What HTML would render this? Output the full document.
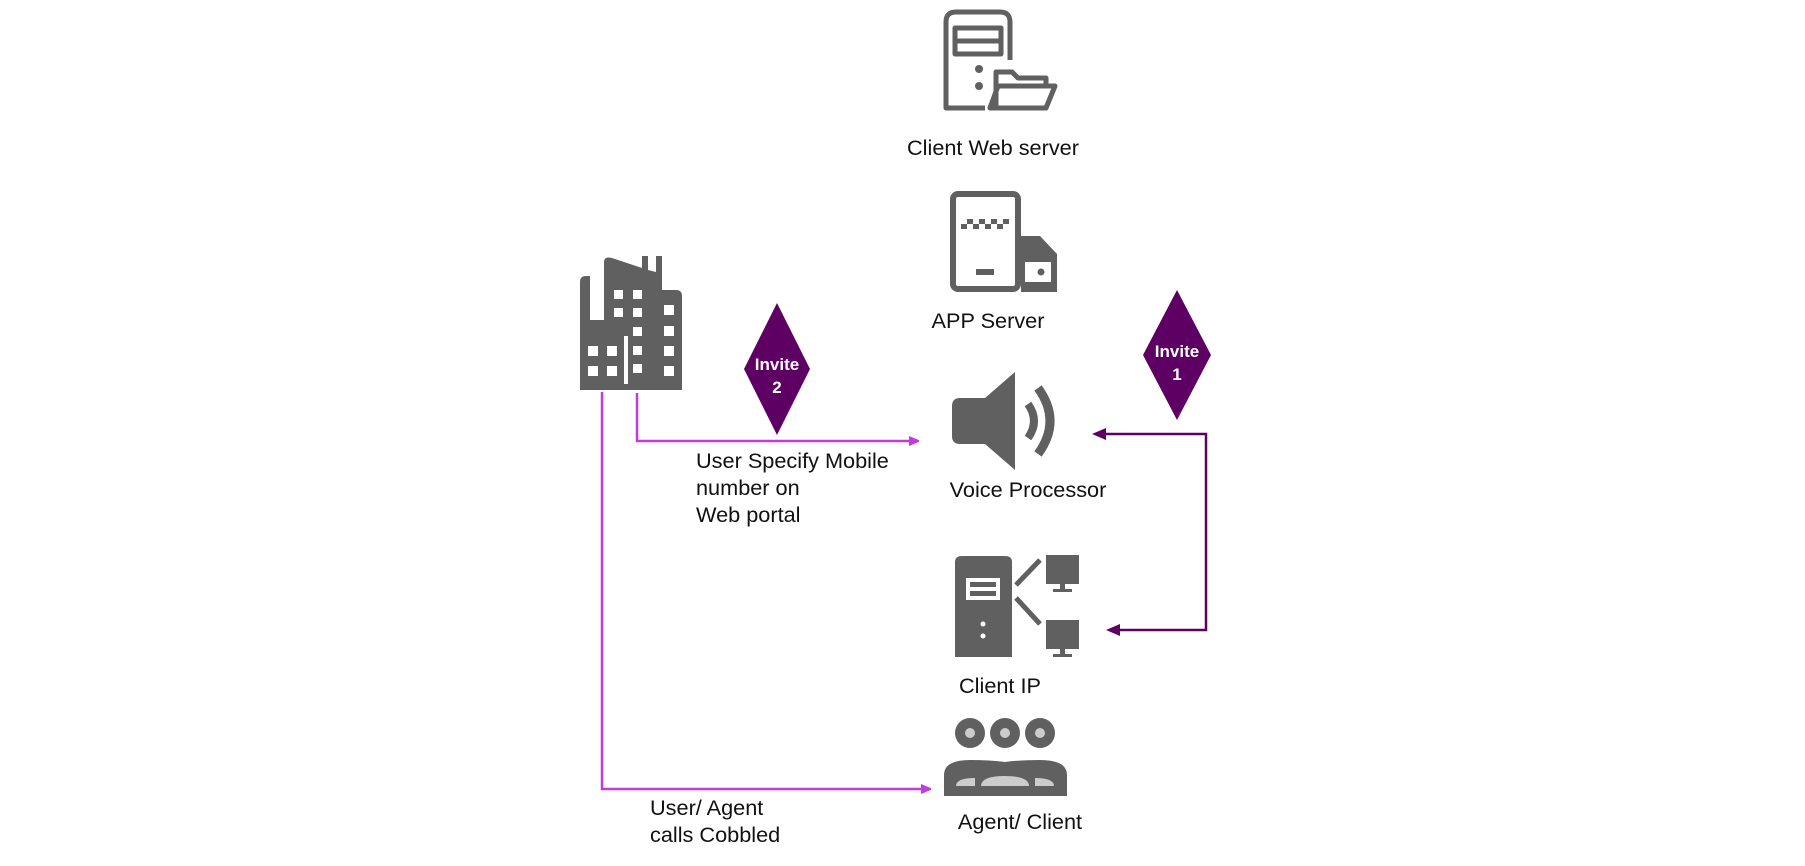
<!DOCTYPE html>
<html><head><meta charset="utf-8"><style>
html,body{margin:0;padding:0;background:#fff;}
svg{display:block;}
text{font-family:"Liberation Sans",Arial,sans-serif;fill:#111;}
</style></head><body>
<svg width="1805" height="866" viewBox="0 0 1805 866" xmlns="http://www.w3.org/2000/svg">
<defs>
<marker id="la" markerWidth="10" markerHeight="10" refX="9" refY="5" orient="auto" markerUnits="userSpaceOnUse"><path d="M0,0 L12,5 L0,10 Z" fill="#c23be0"/></marker>
</defs>
<g fill="#606060" stroke="none">
<g fill="none" stroke="#606060" stroke-width="5" stroke-linejoin="round">
<path d="M946,22 Q946,12 956,12 L1000,12 Q1010,12 1010,22 L1010,60"/>
<path d="M946,22 L946,108 L985,108"/>
<rect x="955" y="28" width="46" height="26"/>
<line x1="955" y1="41" x2="1001" y2="41"/>
<path d="M996,108 L996,72 L1012,72 L1018,78 L1046,78 L1046,86"/>
<path d="M990,108 L998,86 L1055,86 L1046,108 Z"/>
</g>
<circle cx="979" cy="69" r="4"/><circle cx="979" cy="86" r="4"/>
<g fill="none" stroke="#606060" stroke-width="6" stroke-linejoin="round">
<rect x="953" y="194" width="65" height="95" rx="5"/>
</g>
<rect x="961" y="224" width="6" height="5"/><rect x="967" y="219" width="6" height="5"/><rect x="973" y="224" width="6" height="5"/><rect x="979" y="219" width="6" height="5"/><rect x="985" y="224" width="6" height="5"/><rect x="991" y="219" width="6" height="5"/><rect x="997" y="224" width="6" height="5"/><rect x="1003" y="219" width="6" height="5"/>
<rect x="976" y="269" width="18" height="6"/>
<path d="M1021,236 L1040,236 L1057,254 L1057,292 L1021,292 Z"/>
<rect x="1025" y="262" width="26" height="20" fill="#fff"/>
<circle cx="1041" cy="272" r="3.5"/>
<path d="M580,388 L580,282 Q580,276 586,276 L590,276 L590,320 L604,320 L604,262 Q604,256 612,258 L642,268 L642,256 L648,256 L648,270 L656,272 L656,256 L662,256 L662,290 L676,290 Q682,290 682,296 L682,390 L580,390 Z"/>
<g fill="#fff">
<rect x="614" y="290" width="9" height="9"/><rect x="633" y="290" width="9" height="9"/>
<rect x="614" y="308" width="9" height="9"/><rect x="633" y="308" width="9" height="9"/>
<rect x="633" y="327" width="9" height="9"/><rect x="633" y="346" width="9" height="9"/><rect x="633" y="364" width="9" height="9"/>
<rect x="664" y="305" width="10" height="10"/><rect x="664" y="326" width="10" height="10"/><rect x="664" y="346" width="10" height="10"/><rect x="664" y="366" width="10" height="10"/>
<rect x="588" y="346" width="10" height="10"/><rect x="607" y="346" width="10" height="10"/>
<rect x="588" y="366" width="10" height="10"/><rect x="607" y="366" width="10" height="10"/>
<rect x="624" y="336" width="4" height="48"/>
</g>
<path d="M960,398 L985,398 L1015,372 L1015,470 L985,444 L960,444 Q952,444 952,436 L952,406 Q952,398 960,398 Z"/>
<path d="M1028,404 Q1040,421 1028,438" fill="none" stroke="#606060" stroke-width="8"/>
<path d="M1038,388 Q1062,421 1038,454" fill="none" stroke="#606060" stroke-width="9"/>
<path d="M955,562 Q955,556 962,556 L1005,556 Q1012,556 1012,562 L1012,657 L955,657 Z"/>
<g fill="#fff"><rect x="966" y="578" width="34" height="22"/></g>
<rect x="970" y="582" width="26" height="5"/><rect x="970" y="591" width="26" height="5"/>
<circle cx="983" cy="624" r="2.5" fill="#fff"/><circle cx="983" cy="636" r="2.5" fill="#fff"/>
<path d="M1016,585 L1040,560" stroke="#606060" stroke-width="5"/>
<path d="M1016,598 L1040,624" stroke="#606060" stroke-width="5"/>
<rect x="1046" y="555" width="33" height="29"/><rect x="1060" y="584" width="5" height="6"/><rect x="1053" y="589" width="19" height="3"/>
<rect x="1046" y="620" width="33" height="29"/><rect x="1060" y="649" width="5" height="6"/><rect x="1053" y="654" width="19" height="3"/>
<circle cx="970" cy="733" r="15"/><circle cx="1005" cy="733" r="15"/><circle cx="1040" cy="733" r="15"/>
<circle cx="970" cy="733" r="5" fill="#ccc"/><circle cx="1005" cy="733" r="5" fill="#ccc"/><circle cx="1040" cy="733" r="5" fill="#ccc"/>
<path d="M944,796 L944,775 Q944,760 970,760 Q990,760 1005,762 Q1020,760 1040,760 Q1067,760 1067,775 L1067,796 Z"/>
<path d="M956,786 Q956,778 975,778 L975,786 Z M981,786 Q981,776 1005,776 Q1029,776 1029,786 Z M1035,786 L1035,778 Q1054,778 1054,786 Z" fill="#ccc"/>
</g>
<g fill="none" stroke-width="2.5">
<path d="M637,393 L637,441 L918,441" stroke="#c23be0" marker-end="url(#la)"/>
<path d="M602,392 L602,789 L930,789" stroke="#c23be0" marker-end="url(#la)"/>
<path d="M1100,434 L1206,434 L1206,630 L1112,630" stroke="#5e0063"/>
</g>
<path d="M1092,434 L1106,428 L1106,440 Z M1106,630 L1120,624 L1120,636 Z" fill="#5e0063"/>
<path d="M777,303 L810,369 L777,435 L744,369 Z" fill="#5e0063"/>
<path d="M1177,290 L1211,355 L1177,420 L1143,355 Z" fill="#5e0063"/>
<g font-size="17" font-weight="bold">
<text x="777" y="370" text-anchor="middle" style="fill:#fff">Invite</text>
<text x="777" y="393" text-anchor="middle" style="fill:#fff">2</text>
<text x="1177" y="357" text-anchor="middle" style="fill:#fff">Invite</text>
<text x="1177" y="380" text-anchor="middle" style="fill:#fff">1</text>
</g>
<g font-size="21.7">
<text x="993" y="155" text-anchor="middle">Client Web server</text>
<text x="988" y="328" text-anchor="middle">APP Server</text>
<text x="1028" y="497" text-anchor="middle">Voice Processor</text>
<text x="1000" y="693" text-anchor="middle">Client IP</text>
<text x="1020" y="829" text-anchor="middle">Agent/ Client</text>
<text x="696" y="468">User Specify Mobile</text>
<text x="696" y="495">number on</text>
<text x="696" y="522">Web portal</text>
<text x="650" y="815">User/ Agent</text>
<text x="650" y="842">calls Cobbled</text>
</g>
</svg>
</body></html>
